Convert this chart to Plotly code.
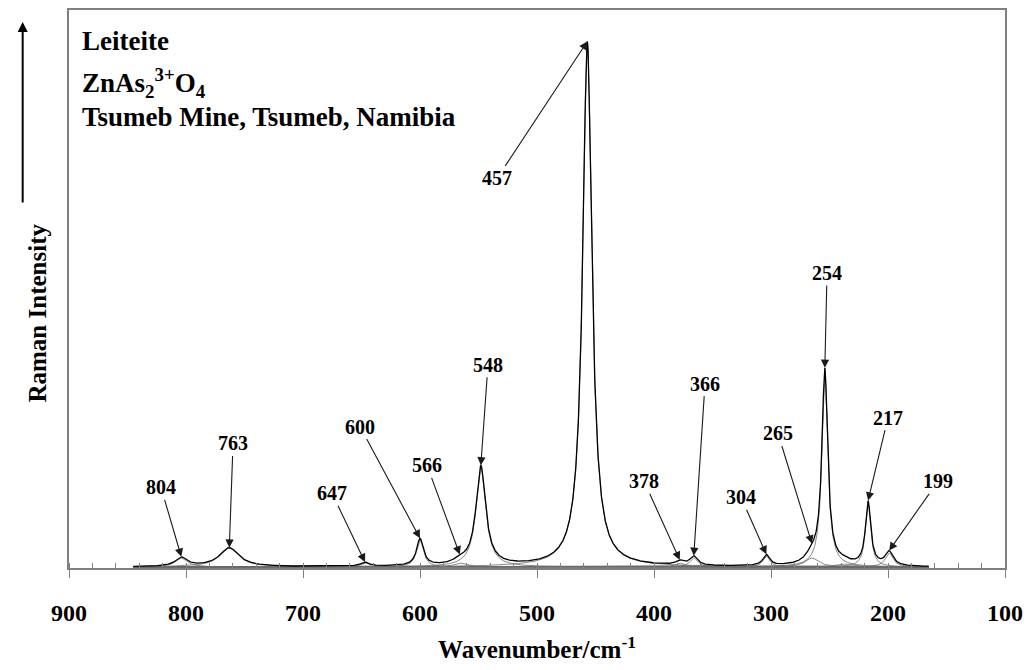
import numpy as np
import plotly.graph_objects as go

# Fitted Raman bands of leiteite: position (cm-1), peak height, full width at half maximum
band_centers = [804, 763, 647, 600, 566, 548, 457, 378, 366, 304, 265, 254, 238, 217, 199]
band_heights = [9, 19, 4, 27, 4, 100, 527, 4, 9, 11, 9, 196, 3, 64, 14]
band_fwhm = [12, 20, 9, 7, 12, 10, 9.5, 8, 8, 7, 14, 6, 14, 5.5, 8]
baseline = 1.0

# Labelled band positions and where each label text sits (wavenumber, intensity)
peak_labels = [804, 763, 647, 600, 566, 548, 457, 378, 366, 304, 265, 254, 217, 199]
label_x = [821.4, 759.8, 675.2, 651.3, 594.0, 541.9, 534.2, 408.5, 356.4, 325.6, 294.0, 252.1, 200.0, 157.3]
label_y = [81, 125, 75, 142, 103, 204, 391, 87, 185, 71, 135, 296, 151, 87]

FONT = "Liberation Serif"

wn = np.arange(845.0, 165.0, -0.25)


def lorentz(x, c, h, w):
    g = w / 2.0
    return h * g * g / ((x - c) ** 2 + g * g)


bands = [lorentz(wn, c, h, w) for c, h, w in zip(band_centers, band_heights, band_fwhm)]
spectrum = np.sum(bands, axis=0) + baseline

fig = go.Figure()

# individual component bands
for b in bands:
    fig.add_trace(go.Scatter(x=wn, y=b + baseline, mode="lines",
                             line=dict(color="#6a6a6a", width=0.8),
                             hoverinfo="skip", showlegend=False))

# summed spectrum
fig.add_trace(go.Scatter(x=wn, y=spectrum, mode="lines",
                         line=dict(color="#000000", width=1.3),
                         showlegend=False))

annotations = []
for lab, lx, ly in zip(peak_labels, label_x, label_y):
    tip_y = float(np.interp(lab, wn[::-1], spectrum[::-1]))
    annotations.append(dict(
        x=lab, y=tip_y, xref="x", yref="y",
        ax=lx, ay=ly, axref="x", ayref="y",
        text=f"<b>{lab}</b>", showarrow=True,
        arrowhead=2, arrowsize=1.5, arrowwidth=1.1, arrowcolor="#1a1a1a",
        standoff=0, startstandoff=0,
        font=dict(family=FONT, size=20, color="#000000"),
    ))

# sample description
for txt, yp in [("<b>Leiteite</b>", 0.9446),
                ("<b>ZnAs<sub>2</sub><sup>3+</sup>O<sub>4</sub></b>", 0.8696),
                ("<b>Tsumeb Mine, Tsumeb, Namibia</b>", 0.8089)]:
    annotations.append(dict(x=0.0118, y=yp, xref="paper", yref="paper",
                            xanchor="left", yanchor="middle", showarrow=False,
                            text=txt, font=dict(family=FONT, size=27, color="#000000")))

# intensity axis label with upward arrow
annotations.append(dict(x=-0.0502, y=0.457, xref="paper", yref="paper",
                        text="<b>Raman Intensity</b>", textangle=-90, showarrow=False,
                        font=dict(family=FONT, size=25, color="#000000")))
annotations.append(dict(x=-0.0495, y=0.9786, xref="paper", yref="paper",
                        text="", showarrow=True, ax=0, ay=182,
                        arrowhead=2, arrowsize=1, arrowwidth=2, arrowcolor="#000000"))

fig.update_layout(
    width=1031, height=670,
    margin=dict(l=69, r=26, t=8, b=102),
    paper_bgcolor="white", plot_bgcolor="white",
    annotations=annotations,
    xaxis=dict(
        range=[900, 100], dtick=100, tick0=100,
        showline=True, linecolor="#808080", linewidth=1.5, mirror=True,
        ticks="outside", ticklen=8, tickcolor="#808080", tickwidth=1,
        minor=dict(dtick=20, ticks="inside", ticklen=5, tickcolor="#808080", tickwidth=1),
        showgrid=False, zeroline=False,
        tickfont=dict(family=FONT, size=24, color="#000000", weight="bold"),
        ticklabelstandoff=14,
        title=dict(text="<b>Wavenumber/cm<sup>-1</sup></b>", standoff=16,
                   font=dict(family=FONT, size=25, color="#000000")),
    ),
    yaxis=dict(
        range=[0, 560], showticklabels=False, ticks="",
        showline=True, linecolor="#808080", linewidth=1.5, mirror=True,
        showgrid=False, zeroline=False,
    ),
)

fig.write_html("out.html")
